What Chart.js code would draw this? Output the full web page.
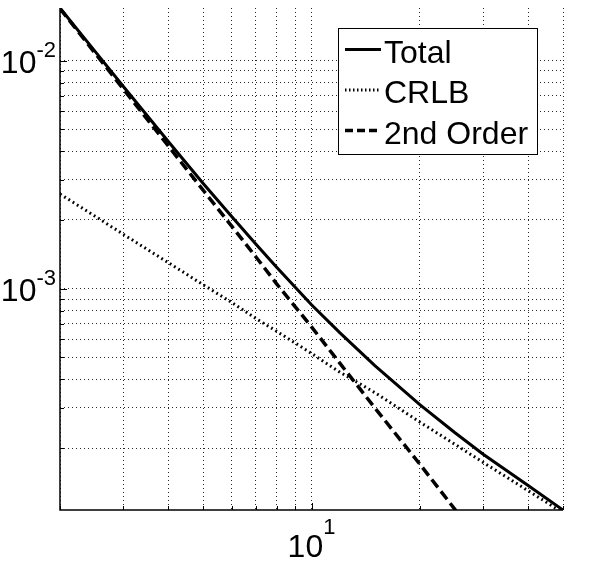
<!DOCTYPE html>
<html>
<head>
<meta charset="utf-8">
<script src="https://cdn.jsdelivr.net/npm/chart.js@4.4.1/dist/chart.umd.min.js"></script>
<style>
  html, body { margin: 0; padding: 0; background: #fff; }
  #plot { display: block; }
</style>
</head>
<body>
<canvas id="plot" width="594" height="567"></canvas>
<script>
// values (log-log)
const xValues = [2, 2.5, 3, 4, 5, 6, 7, 8, 10, 12, 15, 20, 25, 30, 40, 50];
const totalValues = [0.0170, 0.0110, 0.0077, 0.00442, 0.00289, 0.00207, 0.00157, 0.00124, 0.00085, 0.00064, 0.00046, 0.00031, 0.000234, 0.000188, 0.000137, 0.000107];
const crlbValues = [0.0026, 0.00208, 0.00173, 0.0013, 0.00104, 0.00087, 0.00074, 0.00065, 0.00052, 0.00043, 0.00035, 0.00026, 0.000208, 0.000173, 0.00013, 0.000104];
const secondOrderValues = [0.0169, 0.0108, 0.0075, 0.00422, 0.0027, 0.00188, 0.00138, 0.00105, 0.00068, 0.00047, 0.0003, 0.00017, 0.000108, 0.000075, null, null];
const seriesLabels = ['Total', 'CRLB', '2nd Order'];

// grid / tick positions
const xGrid = [2, 3, 4, 5, 6, 7, 8, 9, 10, 20, 30, 40, 50];
const yGrid = [2e-4, 3e-4, 4e-4, 5e-4, 6e-4, 7e-4, 8e-4, 9e-4, 1e-3, 2e-3, 3e-3, 4e-3, 5e-3, 6e-3, 7e-3, 8e-3, 9e-3, 1e-2];
const xMajor = [10];
const xMajorExp = ['1'];
const yMajor = [1e-3, 1e-2];
const yMajorExp = ['-3', '-2'];

const FONT = "'Liberation Sans', Arial, Helvetica, sans-serif";

function pts(ys) {
  return xValues.map((x, i) => ({ x: x, y: ys[i] }));
}

const decor = {
  id: 'decor',
  afterDraw(chart) {
    const ctx = chart.ctx;
    const xs = chart.scales.x, ys = chart.scales.y;
    const a = chart.chartArea;
    ctx.save();
    ctx.strokeStyle = '#000';
    ctx.fillStyle = '#000';
    ctx.setLineDash([]);
    // axis lines (left + bottom only)
    ctx.lineWidth = 1.5;
    ctx.beginPath();
    ctx.moveTo(a.left, a.top);
    ctx.lineTo(a.left, a.bottom);
    ctx.lineTo(a.right, a.bottom);
    ctx.stroke();
    // small inward ticks
    ctx.lineWidth = 1;
    xGrid.forEach(v => {
      const px = Math.round(xs.getPixelForValue(v)) + 0.5;
      const len = xMajor.includes(v) ? 7 : 4;
      ctx.beginPath(); ctx.moveTo(px, a.bottom); ctx.lineTo(px, a.bottom - len); ctx.stroke();
    });
    yGrid.forEach(v => {
      const py = Math.round(ys.getPixelForValue(v)) + 0.5;
      const len = yMajor.includes(v) ? 7 : 4;
      ctx.beginPath(); ctx.moveTo(a.left, py); ctx.lineTo(a.left + len, py); ctx.stroke();
    });

    // tick labels 10^n
    const big = '32px ' + FONT, small = '22px ' + FONT;
    ctx.textBaseline = 'alphabetic';
    yMajor.forEach((v, i) => {
      const py = ys.getPixelForValue(v);
      ctx.font = small;
      const ew = ctx.measureText(yMajorExp[i]).width;
      ctx.textAlign = 'right';
      ctx.fillText(yMajorExp[i], a.left - 4, py - 4);
      ctx.font = big;
      ctx.fillText('10', a.left - 4 - ew, py + 12);
    });
    xMajor.forEach((v, i) => {
      const px = xs.getPixelForValue(v);
      ctx.font = big;
      const bw = ctx.measureText('10').width;
      ctx.font = small;
      const ew = ctx.measureText(xMajorExp[i]).width;
      const left = px - (bw + ew) / 2;
      ctx.textAlign = 'left';
      ctx.font = big;
      ctx.fillText('10', left, a.bottom + 47);
      ctx.font = small;
      ctx.fillText(xMajorExp[i], left + bw, a.bottom + 24);
    });

    // legend box
    const bx = 338, by = 28, bw2 = 199, bh = 126;
    ctx.fillStyle = '#fff';
    ctx.fillRect(bx, by, bw2, bh);
    ctx.strokeStyle = '#000';
    ctx.lineWidth = 1;
    ctx.strokeRect(bx + 0.5, by + 0.5, bw2, bh);
    const baselines = [62.5, 103, 143.5];
    chart.data.datasets.forEach((ds, i) => {
      const yl = baselines[i] - 13;
      ctx.save();
      ctx.strokeStyle = ds.borderColor;
      ctx.lineWidth = ds.borderWidth;
      ctx.setLineDash(ds.legendDash || []);
      ctx.lineCap = 'butt';
      ctx.beginPath();
      ctx.moveTo(345, yl);
      ctx.lineTo(381, yl);
      ctx.stroke();
      ctx.restore();
      ctx.fillStyle = '#000';
      ctx.font = big;
      ctx.textAlign = 'left';
      ctx.fillText(ds.label, 384, baselines[i]);
    });
    ctx.restore();
  }
};

const gridOpts = {
  color: 'rgba(0,0,0,0.85)',
  lineWidth: 1,
  drawTicks: false
};

new Chart(document.getElementById('plot'), {
  type: 'line',
  data: {
    datasets: [
      {
        label: seriesLabels[0],
        data: pts(totalValues),
        borderColor: '#000',
        borderWidth: 3,
        pointRadius: 0,
        legendDash: []
      }, {
        label: seriesLabels[1],
        data: pts(crlbValues),
        borderColor: '#000',
        borderWidth: 3,
        borderDash: [1.8, 3.2],
        pointRadius: 0,
        legendDash: [1.5, 2.5]
      }, {
        label: seriesLabels[2],
        data: pts(secondOrderValues),
        borderColor: '#000',
        borderWidth: 3.5,
        borderDash: [10, 5],
        pointRadius: 0,
        spanGaps: false,
        legendDash: [8, 4]
      }
    ]
  },
  options: {
    responsive: false,
    animation: false,
    devicePixelRatio: 1,
    layout: { padding: { left: 60, top: 8, right: 31, bottom: 57 } },
    plugins: {
      legend: { display: false },
      tooltip: { enabled: false }
    },
    scales: {
      x: {
        type: 'logarithmic',
        min: 2,
        max: 50,
        afterBuildTicks: s => { s.ticks = xGrid.map(v => ({ value: v })); },
        ticks: { display: false },
        grid: gridOpts,
        border: { display: false, dash: [1, 3] }
      },
      y: {
        type: 'logarithmic',
        min: 1.07e-4,
        max: 0.0170,
        afterBuildTicks: s => { s.ticks = yGrid.map(v => ({ value: v })); },
        ticks: { display: false },
        grid: gridOpts,
        border: { display: false, dash: [1, 3] }
      }
    }
  },
  plugins: [decor]
});
</script>
</body>
</html>
